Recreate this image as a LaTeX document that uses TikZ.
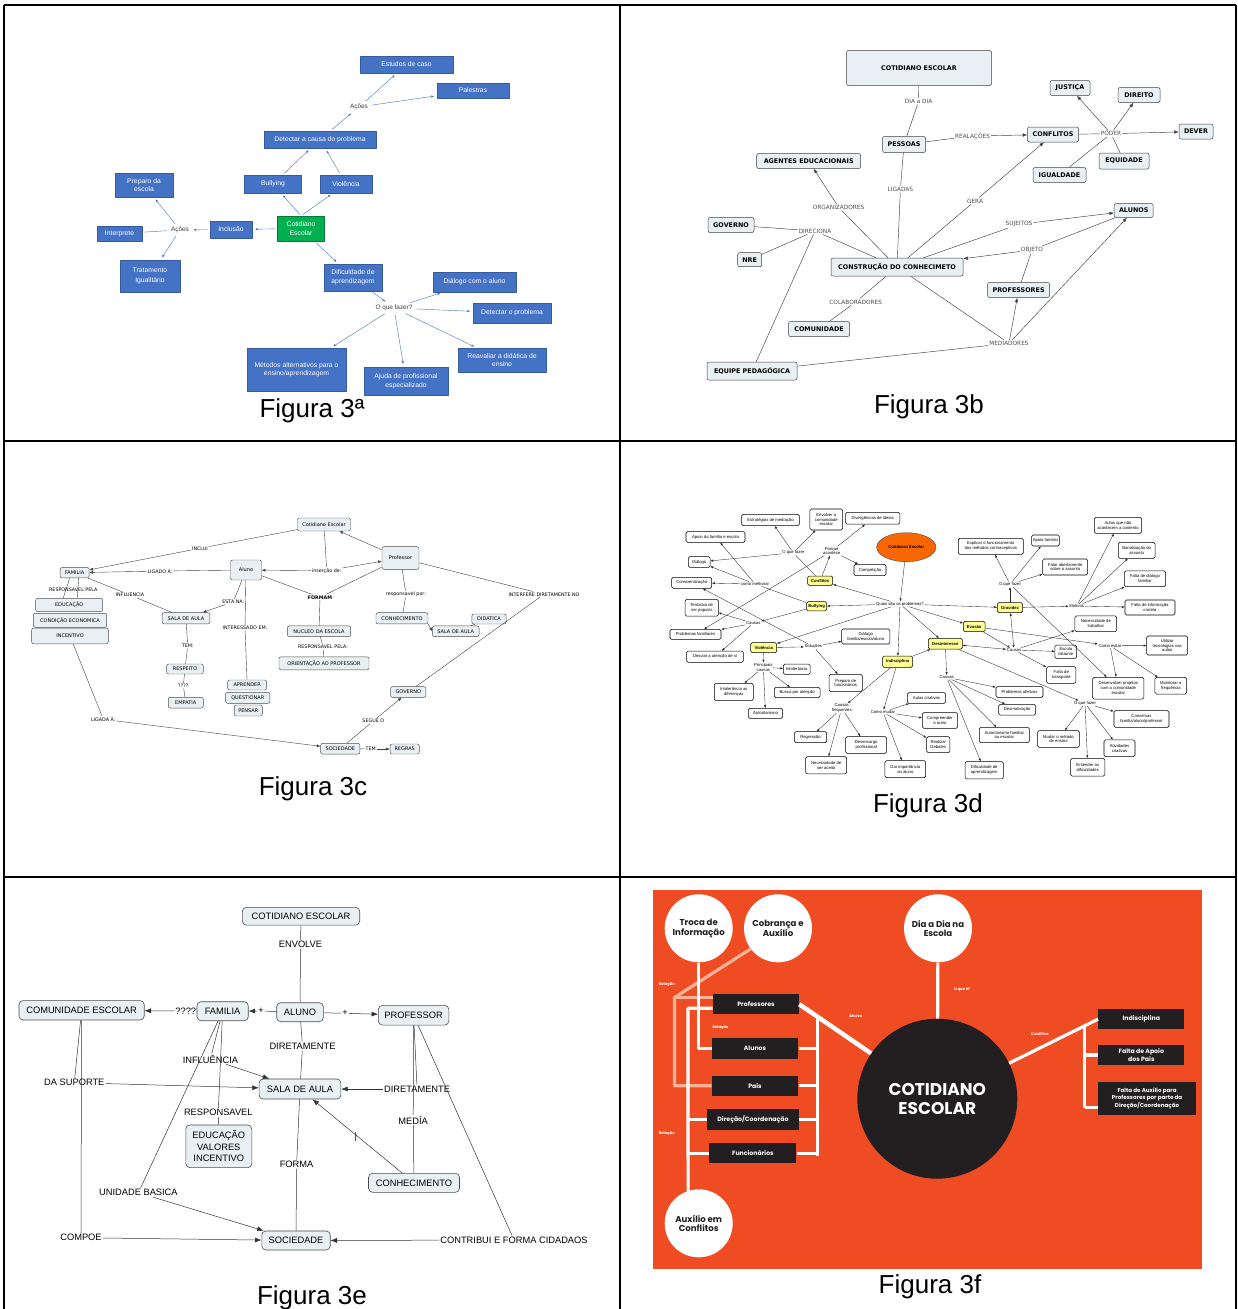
\documentclass[tikz,border=0pt]{standalone}
\usepackage{fontspec}
\setmainfont{Liberation Sans}
\newfontfamily\popfont{Poppins}
\newfontfamily\dvfont{DejaVu Sans}
\usetikzlibrary{arrows.meta,shapes.geometric}

\definecolor{blueA}{RGB}{68,114,196}
\definecolor{greenA}{RGB}{0,176,80}
\definecolor{cmfill}{RGB}{232,240,244}
\definecolor{ylwD}{RGB}{255,255,150}
\definecolor{orangeD}{RGB}{250,102,0}
\definecolor{orangeF}{RGB}{239,76,35}
\definecolor{darkF}{RGB}{35,31,32}
\definecolor{paleF}{RGB}{248,178,152}

\newcommand\fsz[2]{\fontsize{#1}{#2}\selectfont}

\tikzset{
  frameln/.style={line width=1.3pt},
  figcap/.style={font=\fsz{26}{30}},
  % mapa azul
  boxa/.style 2 args={fill=blueA, draw=blueA!80!black, line width=0.3pt, text=white,
    minimum width=#1, minimum height=#2, inner sep=1pt, align=center, font=\fsz{6.8}{8.6}},
  boxg/.style 2 args={boxa={#1}{#2}, fill=greenA, draw=greenA!70!black},
  lbla/.style={font=\fsz{6.4}{7.5}, text=black!75, inner sep=1.5pt},
  arra/.style={draw=blueA, line width=0.4pt, -{Stealth[length=3pt,width=2.4pt]},
    shorten >=3pt, shorten <=2pt},
  lna/.style={draw=blueA, line width=0.4pt, shorten >=2pt, shorten <=2pt},
  % mapa em negrito
  boxb/.style 2 args={draw=black!75, fill=cmfill, rounded corners=2pt, line width=0.5pt,
    minimum width=#1, minimum height=#2, inner sep=1pt, font=\dvfont\bfseries\fsz{6.4}{7}},
  lblb/.style={font=\dvfont\fsz{5.8}{7}, text=black!70, inner sep=1pt},
  lnb/.style={draw=black!75, line width=0.45pt},
  arb/.style={lnb, -{Latex[length=4.5pt,width=3.5pt]}},
  % mapa pequeno
  boxc/.style 2 args={draw=black!70, fill=cmfill, rounded corners=2pt, line width=0.45pt,
    minimum width=#1, minimum height=#2, inner sep=0.8pt, font=\dvfont\fsz{5}{6}},
  lblc/.style={font=\dvfont\fsz{4.8}{6}, inner sep=0.8pt},
  lnc/.style={draw=black!75, line width=0.4pt},
  arrc/.style={lnc, -{Latex[length=3.6pt,width=3pt]}},
  % mapa grande
  boxd/.style 2 args={draw=black, fill=white, rounded corners=1.5pt, line width=0.55pt,
    minimum width=#1, minimum height=#2, inner sep=0.6pt, align=center, font=\fsz{4.2}{4.8}},
  ylwd/.style 2 args={boxd={#1}{#2}, fill=ylwD, font=\bfseries\fsz{4.2}{4.8}},
  lbld/.style={font=\fsz{4.2}{4.8}, align=center, inner sep=0.6pt},
  lnd/.style={draw=black!85, line width=0.35pt},
  ard/.style={lnd, -{Latex[length=2.8pt,width=2.2pt]}},
  ardd/.style={lnd, {Latex[length=2.8pt,width=2.2pt]}-{Latex[length=2.8pt,width=2.2pt]}},
  % mapa com caixas claras
  boxe/.style 2 args={draw=black!70, fill=cmfill, rounded corners=4pt, line width=0.6pt,
    minimum width=#1, minimum height=#2, inner sep=1pt, align=center, font=\fsz{9.3}{11.5}},
  lble/.style={font=\fsz{9.3}{11}, inner sep=1pt},
  lne/.style={draw=black!80, line width=0.5pt},
  are/.style={lne, -{Latex[length=6.5pt,width=5pt]}},
  % mapa laranja
  circf/.style={circle, fill=white, minimum size=68, inner sep=0, align=center, text=darkF,
    font=\popfont\bfseries\fsz{8.6}{9.4}},
  boxf/.style 2 args={fill=darkF, text=white, minimum width=#1, minimum height=#2,
    inner sep=1pt, align=center, font=\popfont\bfseries\fsz{6.2}{6.6}},
  lblf/.style={text=white, font=\popfont\bfseries\fsz{3.8}{4.5}, inner sep=0},
  wl/.style={draw=white, line width=3.2pt},
  pl/.style={draw=paleF, line width=3.2pt},
}

\begin{document}
\begin{tikzpicture}[x=1pt, y=-1pt, line join=round]
\useasboundingbox (0,0) rectangle (1238,1309);

% quadro
\draw[frameln] (4,5) -- (1236,5) (4,441) -- (1236,441) (4,877) -- (1236,877);
\foreach \gx in {4,620,1236}
  \draw[frameln] (\gx,5) -- (\gx,1309);

%% ---------------- 3a
\node[boxa={93}{17}] (estudos) at (406.5,64.5) {Estudos de caso};
\node[boxa={72}{15}] (palestras) at (473,90.5) {Palestras};
\node[lbla] (acoes1) at (359,107) {Ações};
\node[boxa={112}{17}] (detectar) at (320,139.5) {Detectar a causa do problema};
\node[boxa={57}{18}] (bullying) at (273,184) {Bullying};
\node[boxa={52}{18}] (violencia) at (346,184) {Violência};
\node[boxg={47}{25}] (cotidianoA) at (301,228.5) {Cotidiano\\Escolar};
\node[boxa={42}{17}] (inclusao) at (231,229.5) {Inclusão};
\node[lbla] (acoes2) at (180,230) {Ações};
\node[boxa={58}{24}] (preparo) at (144,185) {Preparo da\\escola};
\node[boxa={45}{15}] (interprete) at (119.5,233.5) {Interprete};
\node[boxa={60}{32}] (tratamento) at (150,276) {Tratamento\\[2pt]Igualitário};
\node[boxa={58}{27}] (dificuldade) at (353,277.5) {Dificuldade de\\aprendizagem};
\node[lbla] (oquefazer) at (394,308) {O que fazer?};
\node[boxa={83}{20}] (dialogo) at (474.5,282) {Diálogo com o aluno};
\node[boxa={78}{20}] (detectarp) at (512,313) {Detectar o problema};
\node[boxa={88.5}{24}] (reavaliar) at (502,360) {Reavaliar a didática de\\ensino};
\node[boxa={99}{43}] (metodos) at (296.5,369.5) {Métodos alternativos para o\\ensino/aprendizagem};
\node[boxa={84}{28}] (ajuda) at (406,381) {Ajuda de profissional\\especializado};

\draw[arra] (cotidianoA.north) -- (bullying);
\draw[arra] (cotidianoA.north) -- (violencia);
\draw[arra] (cotidianoA) -- (inclusao);
\draw[arra] (cotidianoA) -- (dificuldade);
\draw[arra] (bullying) -- (detectar);
\draw[arra] (violencia) -- (detectar);
\draw[arra] (detectar) -- (acoes1);
\draw[arra] (acoes1) -- (estudos);
\draw[arra] (acoes1) -- (palestras);
\draw[arra] (inclusao) -- (acoes2);
\draw[arra] (acoes2) -- (preparo);
\draw[lna] (acoes2) -- (interprete);
\draw[arra] (acoes2) -- (tratamento);
\draw[arra] (dificuldade) -- (oquefazer);
\foreach \t in {dialogo,detectarp,reavaliar,metodos,ajuda}
  \draw[arra] (oquefazer) -- (\t);
\node[figcap] (capA) at (312,411) {Figura 3ª};

%% ---------------- 3b
\node[boxb={145}{35}] (cotidianoB) at (919,68) {COTIDIANO ESCOLAR};
\node[boxb={43}{16}] (pessoas) at (904,144.5) {PESSOAS};
\node[boxb={51}{15}] (conflitos) at (1053,134.5) {CONFLITOS};
\node[boxb={34}{15}] (dever) at (1196,131.5) {DEVER};
\node[boxb={40}{15}] (justica) at (1070,88) {JUSTIÇA};
\node[boxb={42}{15}] (direito) at (1139,95) {DIREITO};
\node[boxb={50}{16}] (equidade) at (1124,161) {EQUIDADE};
\node[boxb={53}{15}] (igualdade) at (1059.5,175) {IGUALDADE};
\node[boxb={104}{15}] (agentes) at (808.7,161) {AGENTES EDUCACIONAIS};
\node[boxb={46}{15}] (governo) at (731,225) {GOVERNO};
\node[boxb={24}{14}] (nre) at (749.7,259.7) {NRE};
\node[boxb={132}{18}] (construcao) at (897,267) {CONSTRUÇÃO DO CONHECIMETO};
\node[boxb={39}{14}] (alunos) at (1133.7,210.5) {ALUNOS};
\node[boxb={62}{15}] (professores) at (1018.6,290) {PROFESSORES};
\node[boxb={61}{15}] (comunidade) at (819,329) {COMUNIDADE};
\node[boxb={90}{18}] (equipe) at (752,371) {EQUIPE PEDAGÓGICA};

\node[lblb] (diadia) at (918.6,101.3) {DIA a DIA};
\node[lblb] (realacoes) at (972.5,136) {REALAÇÕES};
\node[lblb] (poder) at (1111,133.7) {PODER};
\node[lblb] (ligadas) at (900.4,189) {LIGADAS};
\node[lblb] (organizadores) at (838.6,207.3) {ORGANIZADORES};
\node[lblb] (gera) at (975,201) {GERA};
\node[lblb] (direciona) at (815,231) {DIRECIONA};
\node[lblb] (sujeitos) at (1019,224.3) {SUJEITOS};
\node[lblb] (objeto) at (1032,250) {OBJETO};
\node[lblb] (colaboradores) at (855.7,302) {COLABORADORES};
\node[lblb] (mediadores) at (1009,343.3) {MEDIADORES};

\draw[lnb] (cotidianoB) -- (diadia) -- (pessoas);
\draw[lnb] (pessoas) -- (realacoes);
\draw[arb] (realacoes) -- (conflitos);
\draw[lnb] (conflitos) -- (poder);
\foreach \t in {justica,direito,dever}
  \draw[arb] (poder) -- (\t);
\draw[lnb] (poder) -- (equidade);
\draw[lnb] (poder) -- (igualdade);
\draw[lnb] (pessoas) -- (ligadas) -- (construcao);
\draw[lnb] (construcao) -- (organizadores);
\draw[arb] (organizadores) -- (agentes);
\draw[lnb] (construcao) -- (gera);
\draw[arb] (gera) -- (conflitos);
\draw[lnb] (governo) -- (direciona);
\draw[lnb] (nre) -- (direciona);
\draw[lnb] (direciona) -- (construcao);
\draw[lnb] (direciona) -- (equipe);
\draw[lnb] (construcao) -- (sujeitos);
\draw[arb] (sujeitos) -- (alunos);
\draw[lnb] (alunos) -- (objeto);
\draw[arb] (objeto) -- (construcao);
\draw[lnb] (professores) -- (objeto);
\draw[lnb] (construcao) -- (colaboradores) -- (comunidade);
\draw[lnb] (construcao) -- (mediadores);
\draw[arb] (mediadores) -- (professores);
\draw[arb] (mediadores) -- (alunos);
\draw[lnb] (equipe) -- (mediadores);
\node[figcap] (capB) at (929,407) {Figura 3b};

%% ---------------- 3c
\node[boxc={53}{13}] (cotidianoC) at (324,524.5) {Cotidiano Escolar};
\node[boxc={29}{10.5}] (familia) at (74.7,572.7) {FAMILIA};
\node[boxc={31}{20}] (aluno) at (246,570) {Aluno};
\node[boxc={37}{22.6}] (professor) at (400.5,558) {Professor};
\node[boxc={67}{13.3}] (educacao) at (69.2,605) {EDUCAÇÃO};
\node[boxc={73.4}{14}] (condicao) at (70,620.3) {CONDIÇÃO ECONOMICA};
\node[boxc={76.7}{15.7}] (incentivo) at (70,636) {INCENTIVO};
\node[boxc={47.7}{11.3}] (salaC1) at (186,618.3) {SALA DE AULA};
\node[boxc={63.4}{10.7}] (nucleo) at (319,631.3) {NUCLEO DA ESCOLA};
\node[boxc={90}{13}] (orientacao) at (324,663.3) {ORIENTAÇÃO AO PROFESSOR};
\node[boxc={52}{11.3}] (conhecimentoC) at (402,618.3) {CONHECIMENTO};
\node[boxc={46.7}{10.7}] (salaC2) at (455.7,631.3) {SALA DE AULA};
\node[boxc={34.3}{10}] (didatica) at (489,619) {DIDATICA};
\node[boxc={36.7}{10}] (respeito) at (185,669) {RESPEITO};
\node[boxc={35}{10.7}] (empatia) at (185.8,702.7) {EMPATIA};
\node[boxc={39}{10}] (aprender) at (247.2,685) {APRENDER};
\node[boxc={44.3}{11}] (questionar) at (247.8,697.8) {QUESTIONAR};
\node[boxc={28}{11}] (pensar) at (248.3,710.5) {PENSAR};
\node[boxc={35.3}{10.7}] (governoC) at (408.3,692) {GOVERNO};
\node[boxc={39.3}{10.7}] (sociedadeC) at (340.3,748.7) {SOCIEDADE};
\node[boxc={29.3}{10}] (regras) at (404.7,749) {REGRAS};

\node[lblc] (inclui) at (200,548.3) {INCLUI};
\node[lblc] (ligadoa) at (160,571) {LIGADO À:};
\node[lblc] (insercao) at (326.7,570.7) {inserção de:};
\node[lblc, font=\dvfont\bfseries\fsz{4.8}{6}] (formam) at (320,597.3) {FORMAM};
\node[lblc] (respPela) at (323,646.7) {RESPONSAVEL PELA:};
\node[lblc] (respPor) at (406,594.3) {responsavel por:};
\node[lblc] (interfere) at (544,594.3) {INTERFERE DIRETAMENTE NO};
\node[lblc] (segue) at (373.3,721) {SEGUE O};
\node[lblc] (tem2) at (370.7,749) {TEM};
\node[lblc] (ligadaa) at (103.3,719.3) {LIGADA À:};
\node[lblc] (respFam) at (73.3,590) {RESPONSAVEL PELA};
\node[lblc] (influencia) at (130,595) {INFLUENCIA};
\node[lblc] (estana) at (233.3,601.7) {ESTA NA:};
\node[lblc] (interessado) at (245,627.7) {INTERESSADO EM:};
\node[lblc] (tem1) at (187.7,646) {TEM:};
\node[lblc] (interrC) at (183.3,685.7) {????};

\draw[lnc] (cotidianoC) -- (inclui);
\draw[arrc] (inclui) -- (familia);
\draw[lnc] (aluno) -- (ligadoa);
\draw[arrc] (ligadoa) -- (familia);
\draw[lnc] (cotidianoC) -- (insercao);
\draw[arrc] (insercao) -- (aluno);
\draw[arrc] (insercao) -- (professor);
\draw[arrc] (professor) -- (cotidianoC);
\draw[lnc] (aluno) -- (formam);
\draw[lnc] (professor) -- (formam);
\draw[lnc] (formam) -- (nucleo);
\draw[lnc] (nucleo) -- (respPela) -- (orientacao);
\draw[lnc] (professor) -- (respPor) -- (conhecimentoC);
\draw[arrc] (conhecimentoC.south east) -- (salaC2.west);
\draw[lnc] (salaC2) -- (didatica);
\draw[lnc] (professor) -- (interfere);
\draw[lnc] (interfere) -- (governoC);
\draw[lnc] (sociedadeC) -- (segue);
\draw[arrc] (segue) -- (governoC);
\draw[lnc] (sociedadeC) -- (tem2);
\draw[arrc] (tem2) -- (regras);
\draw[lnc] (incentivo) -- (ligadaa);
\draw[arrc] (ligadaa) -- (sociedadeC);
\draw[lnc] ([xshift=-5pt]familia.south) -- ([xshift=-6pt]educacao.north);
\draw[lnc] ([xshift=4pt]familia.south) -- ([xshift=8pt]educacao.north);
\draw[lnc] (familia) -- (influencia) -- (salaC1);
\draw[lnc] (aluno) -- (estana);
\draw[arrc] (estana) -- (salaC1);
\draw[lnc] (aluno) -- (interessado) -- (aprender);
\draw[lnc] (salaC1) -- (tem1) -- (respeito);
\draw[lnc] (respeito) -- (interrC) -- (empatia);
\node[figcap] (capC) at (313,789) {Figura 3c};

%% ---------------- 3d
\node[ellipse, draw=black!70, fill=orangeD, minimum width=59.4, minimum height=29, inner sep=0,
  font=\bfseries\fsz{4.2}{4.8}] (cotD) at (906.3,547.2) {Cotidiano Escolar};
\node[boxd={57.7}{11.3}] (estrategias) at (770.5,520) {Estratégias de mediação};
\node[boxd={32.7}{21}] (envolver) at (826.3,519.5) {Envolver a\\comunidade\\escolar};
\node[boxd={54.3}{11.7}] (divergencias) at (872.8,518.2) {Divergências de ideias};
\node[boxd={59}{10.7}] (apoioFE) at (715.5,537) {Apoio da família e escola};
\node[boxd={21.7}{10.7}] (dialogoD) at (699.2,562) {Diálogo};
\node[boxd={32}{11.3}] (competicao) at (870,570) {Competição};
\node[ylwd={25}{9.3}] (conflitosD) at (820.2,580.7) {Conflitos};
\node[boxd={40}{11}] (conscientizacao) at (691.7,582.8) {Conscientização};
\node[ylwd={20}{9.3}] (bullyingD) at (816.7,606.3) {Bullying};
\node[boxd={33.3}{16.7}] (tentativa) at (701.7,607.7) {Tentativa de\\ser popular};
\node[boxd={51}{10}] (probFam) at (695.5,634.3) {Problemas familiares};
\node[boxd={48.3}{15}] (dialogoFEA) at (865.8,636.5) {Diálogo\\família/escola/aluno};
\node[ylwd={26}{10}] (violenciaD) at (763.7,647.7) {Violência};
\node[boxd={56.7}{11.3}] (desviar) at (715,656.7) {Desviar a atenção de si};
\node[boxd={26.7}{10.3}] (intolerancia) at (796.7,669.2) {Intolerância};
\node[boxd={39}{17.3}] (intolDif) at (733.8,692) {Intolerância as\\diferenças};
\node[boxd={45.7}{10.3}] (busca) at (797.2,692.5) {Busca por atenção};
\node[boxd={34.3}{10}] (autoritarismo) at (765.5,713.3) {Autoritarismo};
\node[boxd={33.3}{17.3}] (preparoF) at (845.7,683) {Preparo de\\funcionários};
\node[boxd={32.3}{11}] (regressao) at (810.5,737.2) {Regressão};
\node[boxd={41}{16.7}] (desencargo) at (866.2,745) {Desencargo\\profissional};
\node[boxd={41}{17.3}] (necessidade) at (826.2,765.3) {Necessidade de\\ser aceito};
\node[boxd={40.7}{17}] (darImport) at (905.3,769.2) {Dar importância\\ao aluno};
\node[boxd={38.3}{10.7}] (aulasCriat) at (926.5,698) {Aulas criativas};
\node[boxd={35.3}{15.7}] (compreender) at (940,720.5) {Compreender\\o outro};
\node[boxd={23.3}{16}] (debates) at (938.3,744.7) {Realizar\\Debates};
\node[ylwd={30}{11.3}] (indisciplina) at (897.7,661.7) {Indisciplina};
\node[ylwd={34}{10.7}] (desinteresse) at (945.3,643.7) {Desinteresse};
\node[ylwd={21.7}{10.3}] (evasao) at (974.2,626.5) {Evasão};
\node[ylwd={25.3}{10}] (gravidez) at (1010,607.7) {Gravidez};
\node[boxd={65}{16}] (explicar) at (990.8,546.3) {Explicar o funcionamento\\dos métodos contraceptivos};
\node[boxd={27.7}{11}] (apoioFam) at (1045.5,540.5) {Apoio familiar};
\node[boxd={45}{16}] (falar) at (1065.2,567) {Falar abertamente\\sobre o assunto};
\node[boxd={47.3}{16}] (aulasNao) at (1118,525.3) {Aulas que não\\acontecem a contento};
\node[boxd={36.7}{16}] (banalizacao) at (1136.7,550.3) {Banalização do\\assunto};
\node[boxd={41.3}{15.7}] (faltaDial) at (1145,578.8) {Falta de diálogo\\familiar};
\node[boxd={50}{15}] (faltaInfo) at (1150,607.5) {Falta de informação\\correta};
\node[boxd={41.7}{15.7}] (necTrab) at (1095.8,623.8) {Necessidade de\\trabalhar};
\node[boxd={41}{19}] (utilizar) at (1167.2,645.5) {Utilizar\\tecnologias nas\\aulas};
\node[boxd={21.7}{13.3}] (escolaDist) at (1065.8,651.7) {Escola\\distante};
\node[boxd={29.3}{16.7}] (faltaTransp) at (1061.3,675) {Falta de\\transporte};
\node[boxd={51.3}{21.7}] (desenvolver) at (1118.3,688.2) {Desenvolver projetos\\com a comunidade\\escolar};
\node[boxd={31.7}{16.7}] (monitorar) at (1170.8,685.7) {Monitorar a\\frequência};
\node[boxd={47}{10.7}] (probAfet) at (1019.5,692) {Problemas afetivos};
\node[boxd={37}{10.7}] (desmotiv) at (1017.2,709.7) {Desmotivação};
\node[boxd={55}{16.7}] (conversas) at (1141.5,719) {Conversas\\família/aluno/professor};
\node[boxd={50}{15.3}] (autoritFam) at (1004.3,735) {Autoritarismo familiar\\ou escolar};
\node[boxd={41.7}{16.7}] (mudar) at (1058.5,739) {Mudar o método\\de ensino};
\node[boxd={31}{16.7}] (ativCriat) at (1119.5,748.3) {Atividades\\criativas};
\node[boxd={34.3}{17.7}] (entender) at (1087.8,767.2) {Entender as\\dificuldades};
\node[boxd={38.3}{17.3}] (difAprend) at (984.2,770.3) {Dificuldade de\\aprendizagem};

\node[lbld] (oqfD1) at (793.3,552.7) {O que fazer};
\node[lbld] (porque) at (831.7,551) {Porque\\acontece};
\node[lbld] (comoMelhorar) at (755,584) {como melhorar};
\node[lbld] (quais) at (900,604) {Quais são os problemas?};
\node[lbld] (causasB) at (753.3,623.3) {Causas};
\node[lbld] (solucoes) at (813.3,646.7) {Soluções};
\node[lbld] (principais) at (763.3,667.3) {Principais\\causas};
\node[lbld] (causasFreq) at (841.7,708.3) {Causas\\frequentes};
\node[lbld] (comoMudar) at (883,712) {Como mudar};
\node[lbld] (causasDes) at (946.7,677.3) {Causas};
\node[lbld] (oqfD3) at (1085,703.3) {O que fazer};
\node[lbld] (causasEv) at (1014,650) {Causas};
\node[lbld] (comoEvitar) at (1110,645.7) {Como evitar};
\node[lbld] (oqfD2) at (1010,584.3) {O que fazer};
\node[lbld] (motivos) at (1076.7,606) {Motivos};

\draw[ard] (cotD) -- (quais);
\foreach \t in {conflitosD,bullyingD,violenciaD,gravidez,evasao,desinteresse,indisciplina}
  \draw[ard] (quais) -- (\t);
\draw[ard] (indisciplina) -- (desinteresse);
\draw[lnd] (conflitosD) -- (oqfD1);
\foreach \t in {estrategias,envolver,dialogoD}
  \draw[ard] (oqfD1) -- (\t);
\draw[ard] (conflitosD) -- (porque);
\foreach \t in {divergencias,competicao,probFam}
  \draw[ard] (porque) -- (\t);
\draw[lnd] (bullyingD) -- (comoMelhorar);
\foreach \t in {apoioFE,dialogoD,conscientizacao}
  \draw[ard] (comoMelhorar) -- (\t);
\draw[ard] (bullyingD) -- (causasB);
\foreach \t in {tentativa,probFam,desviar}
  \draw[ard] (causasB) -- (\t);
\draw[ard] (violenciaD) -- (solucoes);
\foreach \t in {conscientizacao,dialogoFEA,preparoF}
  \draw[ard] (solucoes) -- (\t);
\draw[ard] (violenciaD) -- (principais);
\foreach \t in {intolerancia,intolDif,busca,autoritarismo}
  \draw[ard] (principais) -- (\t);
\draw[ard] (indisciplina) -- (causasFreq);
\foreach \t in {regressao,necessidade,desencargo}
  \draw[ard] (causasFreq) -- (\t);
\draw[ard] (indisciplina) -- (comoMudar);
\foreach \t in {aulasCriat,compreender,debates,darImport}
  \draw[ard] (comoMudar) -- (\t);
\draw[ard] (desinteresse) -- (causasDes);
\foreach \t in {probAfet,desmotiv,autoritFam,difAprend}
  \draw[ard] (causasDes) -- (\t);
\draw[ard] (desinteresse) -- (oqfD3);
\foreach \t in {conversas,mudar,entender,ativCriat}
  \draw[ard] (oqfD3) -- (\t);
\draw[ardd] (desinteresse) -- (causasEv);
\draw[ard] (evasao) -- (causasEv);
\draw[ardd] (gravidez) -- (causasEv);
\foreach \t in {necTrab,escolaDist,faltaTransp}
  \draw[ard] (causasEv) -- (\t);
\draw[ard] (evasao) -- (comoEvitar);
\foreach \t in {utilizar,desenvolver,monitorar}
  \draw[ard] (comoEvitar) -- (\t);
\draw[ard] (gravidez) -- (oqfD2);
\foreach \t in {explicar,apoioFam,falar,desenvolver}
  \draw[ard] (oqfD2) -- (\t);
\draw[ard] (gravidez) -- (motivos);
\foreach \t in {aulasNao,banalizacao,faltaDial,faltaInfo}
  \draw[ard] (motivos) -- (\t);
\node[figcap] (capD) at (928,806) {Figura 3d};

%% ---------------- 3e
\node[boxe={117.4}{17.7}] (cotidianoE) at (301,916.2) {COTIDIANO ESCOLAR};
\node[boxe={46.6}{19}] (alunoE) at (300,1012.2) {ALUNO};
\node[boxe={51.3}{19}] (familiaE) at (222.6,1011.2) {FAMILIA};
\node[boxe={125.3}{19.3}] (comunidadeE) at (81.6,1010.3) {COMUNIDADE ESCOLAR};
\node[boxe={70.4}{19.7}] (professorE) at (413.6,1015.2) {PROFESSOR};
\node[boxe={81.8}{20}] (salaE) at (300,1089) {SALA DE AULA};
\node[boxe={66}{42.7}] (educacaoE) at (218.8,1146.3) {EDUCAÇÃO\\VALORES\\INCENTIVO};
\node[boxe={91}{19}] (conhecimentoE) at (414,1182.8) {CONHECIMENTO};
\node[boxe={68.4}{19}] (sociedadeE) at (296,1240.5) {SOCIEDADE};

\node[lble] (envolve) at (300.5,944) {ENVOLVE};
\node[lble] (interrE) at (185.8,1011) {????};
\node[lble] (maisF) at (261,1011) {+};
\node[lble] (maisP) at (345,1013.3) {+};
\node[lble] (diretamente1) at (302.5,1046) {DIRETAMENTE};
\node[lble] (influenciaE) at (210.4,1059) {INFLUÊNCIA};
\node[lble] (suporte) at (74.3,1082.7) {DA SUPORTE};
\node[lble] (diretamente2) at (417.1,1089) {DIRETAMENTE};
\node[lble] (responsavelE) at (218.3,1112.3) {RESPONSAVEL};
\node[lble] (media) at (413.2,1120) {MEDÍA};
\node[lble] (tick) at (355.9,1136.7) {|};
\node[lble] (forma) at (296.6,1164.3) {FORMA};
\node[lble] (unidade) at (138.4,1192.7) {UNIDADE BASICA};
\node[lble] (compoe) at (81,1237.7) {COMPOE};
\node[lble] (contribui) at (514,1240) {CONTRIBUI E FORMA CIDADAOS};

\draw[lne] (cotidianoE) -- (envolve) -- (alunoE);
\draw[lne] (alunoE) -- (maisF);
\draw[are] (maisF) -- (familiaE);
\draw[lne] (alunoE) -- (maisP);
\draw[are] (maisP) -- (professorE);
\draw[lne] (familiaE) -- (interrE);
\draw[are] (interrE) -- (comunidadeE);
\draw[lne] (alunoE) -- (diretamente1) -- (salaE);
\draw[lne] (familiaE) -- (influenciaE);
\draw[are] (influenciaE) -- (salaE);
\draw[lne] (familiaE) -- (responsavelE) -- (educacaoE);
\draw[lne] (familiaE) -- (unidade);
\draw[are] (unidade) -- (sociedadeE);
\draw[lne] (comunidadeE) -- (suporte);
\draw[are] (suporte) -- (salaE);
\draw[lne] (comunidadeE) -- (compoe);
\draw[are] (compoe) -- (sociedadeE);
\draw[lne] (salaE) -- (forma) -- (sociedadeE);
\draw[lne] (professorE) -- (diretamente2);
\draw[are] (diretamente2) -- (salaE);
\draw[lne] (professorE) -- (media) -- (conhecimentoE);
\draw[are] (conhecimentoE) -- (salaE);
\draw[lne] (professorE) -- (contribui);
\draw[are] (contribui) -- (sociedadeE);
\node[figcap] (capE) at (312,1298) {Figura 3e};

%% ---------------- 3f
\fill[orangeF] (653.4,890) rectangle (1202,1269.3);
\node[circf] (troca) at (698.7,928.3) {Troca de\\Informação};
\node[circf] (cobranca) at (778,928.3) {Cobrança e\\Auxílio};
\node[circf] (diaDia) at (938,928.3) {Dia a Dia na\\Escola};
\node[circf] (auxilio) at (698.7,1223.3) {Auxílio em\\Conflitos};
\node[circle, fill=darkF, minimum size=160, inner sep=0, align=center, text=white,
  font=\popfont\bfseries\fsz{17}{19}] (bigF) at (937.3,1098.7) {COTIDIANO\\ESCOLAR};
\node[boxf={86.3}{20}] (profF) at (756,1004.3) {Professores};
\node[boxf={86.6}{20.7}] (alunosF) at (755,1048.7) {Alunos};
\node[boxf={86.6}{20}] (paisF) at (755,1085.7) {Pais};
\node[boxf={92}{20.7}] (direcaoF) at (753,1119.7) {Direção/Coordenação};
\node[boxf={87}{20}] (funcF) at (752.9,1153.3) {Funcionários};
\node[boxf={86.2}{19.7}] (indiscF) at (1141.3,1019.2) {Indisciplina};
\node[boxf={86.2}{20}] (apoioF) at (1141.3,1055) {Falta de Apoio\\dos Pais};
\node[boxf={97.8}{33.3}, font=\popfont\bfseries\fsz{5.6}{5.8}] (auxF) at (1147.1,1098.7)
  {Falta de Auxílio para\\Professores por parte da\\Direção/Coordenação};

\coordinate (busTop) at (817.1,1016.7);
\coordinate (busBot) at (817.1,1155.7);
\coordinate (busRTop) at (1084.7,1026);
\coordinate (busRBot) at (1084.7,1107.7);
\coordinate (auxTop) at (687.9,1008.3);
\coordinate (paleTop) at (674.5,997.5);

% ligacoes claras por baixo
\draw[pl] (cobranca.217) -- (paleTop) -- (paleTop |- paisF.west) -- (paisF.west);
\draw[pl] (paleTop) -- (paleTop -| profF.west);
% ligacoes brancas
\draw[wl] (diaDia) -- (bigF);
\draw[wl, line width=4.5pt] (profF.east) -- (bigF);
\draw[wl] (busTop) -- (busBot);
\foreach \b in {alunosF,paisF,direcaoF,funcF}
  \draw[wl] (\b.east) -- (\b.east -| busTop);
\draw[wl] (bigF) -- (indiscF.west);
\draw[wl] (busRTop) -- (busRBot);
\draw[wl] (apoioF.west -| busRTop) -- (apoioF.west);
\draw[wl] (busRBot) -- (busRBot -| auxF.west);
\draw[wl] (troca.south) -- (troca.south |- alunosF.west) -- (alunosF.west);
\draw[wl] (auxilio.108) -- (auxTop) -- (auxTop -| profF.west);
\draw[wl] (direcaoF.west -| auxTop) -- (direcaoF.west);
\draw[wl] (funcF.west -| auxTop) -- (funcF.west);

\node[lblf] (relacao1) at (666.8,984.3) {Relação};
\node[lblf] (relacao2) at (720.5,1027.7) {Relação};
\node[lblf] (relacao3) at (666.8,1134) {Relação};
\node[lblf] (atores) at (855.5,1016) {Atores};
\node[lblf] (oquee) at (962,989.3) {O que é?};
\node[lblf] (conflitosF) at (1040,1034) {Conflitos};
\node[figcap] (capF) at (930,1287) {Figura 3f};
\end{tikzpicture}
\end{document}
